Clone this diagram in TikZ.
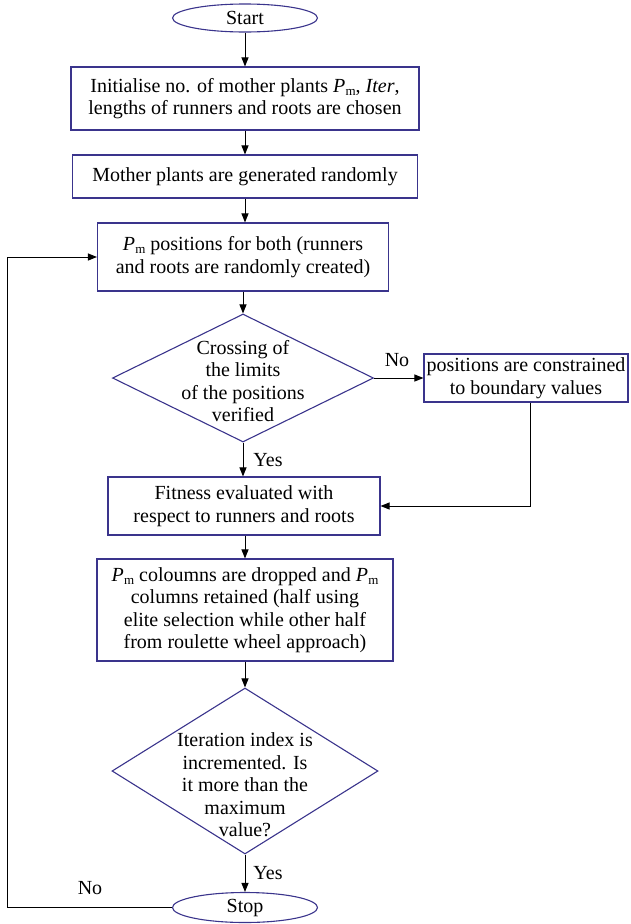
\documentclass[tikz,border=0pt]{standalone}
\usepackage{fontspec}
\setmainfont{Liberation Serif}
\usetikzlibrary{shapes.geometric,arrows.meta}
\definecolor{bord}{RGB}{58,52,140}
\newcommand{\Pmsym}{\textit{P}\kern0.3pt\raisebox{-0.35ex}{\fontsize{13}{13}\selectfont m}}
\begin{document}
\begin{tikzpicture}[x=1pt,y=1pt,
  font=\fontsize{20}{22.5}\selectfont,
  box/.style={draw=bord, line width=1.1pt, rectangle, align=center, inner sep=0pt},
  term/.style={draw=bord, line width=1.1pt, ellipse, inner sep=0pt, minimum width=145pt},
  dia/.style={draw=bord, line width=1.1pt, diamond, inner sep=0pt},
  dtext/.style={align=center, inner sep=0pt},
  lbl/.style={inner sep=0pt},
  arr/.style={-{Triangle[length=9pt,width=7pt]}, line width=1pt, black},
  ln/.style={line width=1pt, black}]
\useasboundingbox (0,0) rectangle (630,-924);
\node[term, minimum height=28pt] (start) at (245,-18) {Start};
\node[box, minimum width=348pt, minimum height=63pt] (b1) at (245,-98.5)
  {Initialise no. of mother plants \Pmsym, \textit{Iter},\\lengths of runners and roots are chosen};
\node[box, minimum width=345pt, minimum height=43pt] (b2) at (245,-176.5)
  {Mother plants are generated randomly};
\node[box, minimum width=291pt, minimum height=68pt] (b3) at (243,-257)
  {\Pmsym\ positions for both (runners\\and roots are randomly created)};
\node[dia, minimum width=261pt, minimum height=128pt] (d1) at (243,-378) {};
\node[dtext] (d1t) at (243,-381) {Crossing of\\the limits\\of the positions\\verified};
\node[box, minimum width=204pt, minimum height=48pt] (rb) at (526,-378)
  {positions are constrained\\to boundary values};
\node[box, minimum width=272pt, minimum height=58pt] (b4) at (244,-506)
  {Fitness evaluated with\\respect to runners and roots};
\node[box, minimum width=296pt, minimum height=102pt] (b5) at (245,-610)
  {\Pmsym\ coloumns are dropped and \Pmsym\\columns retained (half using\\elite selection while other half\\from roulette wheel approach)};
\node[dia, minimum width=266pt, minimum height=166pt] (d2) at (245,-771) {};
\node[dtext] (d2t) at (245,-785) {Iteration index is\\incremented. Is\\it more than the\\maximum\\value?};
\node[term, minimum height=30pt] (stop) at (245,-907.5) {Stop};
\coordinate (lx) at (7,-907.5);
\node[lbl] (no1) at (397,-360) {No};
\node[lbl] (yes1) at (268,-460) {Yes};
\node[lbl] (yes2) at (268,-873) {Yes};
\node[lbl] (no2) at (90,-888) {No};
\draw[arr] (start.south) -- (start.south |- b1.north);
\draw[arr] (start.south |- b1.south) -- (start.south |- b2.north);
\draw[arr] (start.south |- b2.south) -- (start.south |- b3.north);
\draw[arr] (d1.north |- b3.south) -- (d1.north);
\draw[arr] (d1.south) -- (d1.south |- b4.north);
\draw[arr] (d1.east) -- (rb.west);
\draw[arr] ([xshift=4pt]rb.south) |- (b4.east);
\draw[arr] (start.south |- b4.south) -- (start.south |- b5.north);
\draw[arr] (start.south |- b5.south) -- (d2.north);
\draw[arr] (d2.south) -- (stop.north);
\draw[arr] (stop.west) -- (lx) |- (b3.west);
\end{tikzpicture}
\end{document}
